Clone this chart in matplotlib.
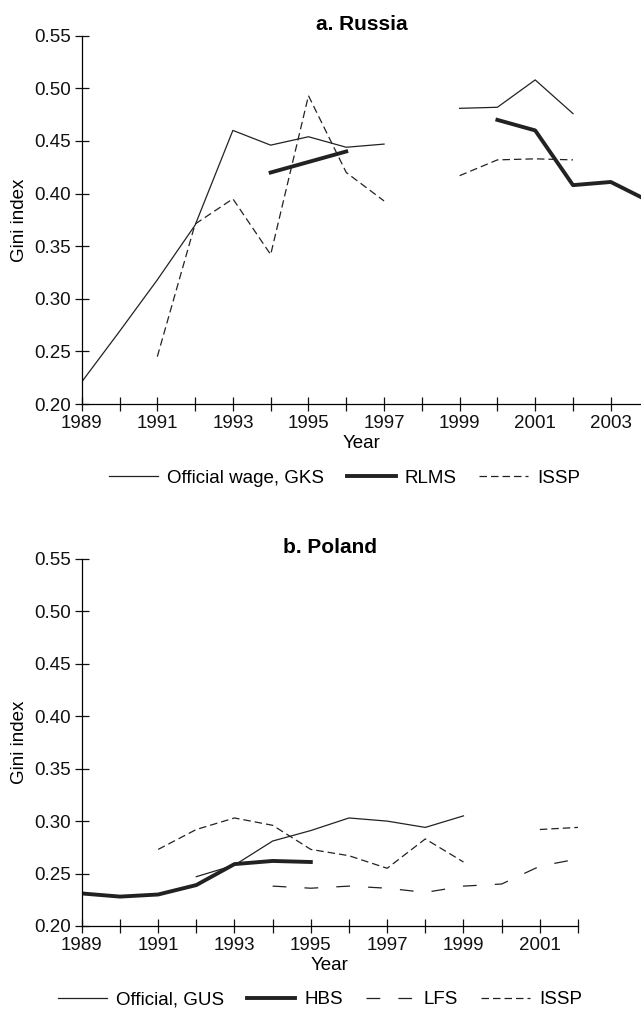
import numpy as np
import matplotlib
matplotlib.use("Agg")
import matplotlib.pyplot as plt

plt.rcParams['font.family'] = ['Liberation Sans', 'DejaVu Sans']

nan = np.nan

# Russia, 1989-2004
years_ru = np.arange(1989, 2005)
gks = [0.221, 0.269, 0.318, 0.370, 0.460, 0.446, 0.454, 0.444, 0.447, nan,
       0.481, 0.482, 0.508, 0.476, nan, nan]
rlms = [nan, nan, nan, nan, nan, 0.420, 0.430, 0.440, nan, nan,
        nan, 0.470, 0.460, 0.408, 0.411, 0.393]
issp_ru = [nan, nan, 0.245, 0.371, 0.395, 0.342, 0.493, 0.420, 0.393, nan,
           0.417, 0.432, 0.433, 0.432, nan, nan]

# Poland, 1989-2002
years_pl = np.arange(1989, 2003)
gus = [nan, nan, nan, 0.247, 0.258, 0.281, 0.291, 0.303, 0.300, 0.294,
       0.305, nan, nan, nan]
hbs = [0.231, 0.228, 0.230, 0.239, 0.259, 0.262, 0.261, nan, nan, nan,
       nan, nan, nan, nan]
lfs = [nan, nan, nan, nan, nan, 0.238, 0.236, 0.238, 0.236, 0.232,
       0.238, 0.240, 0.257, 0.264]
issp_pl = [nan, nan, 0.273, 0.292, 0.303, 0.296, 0.273, 0.267, 0.255, 0.283,
           0.261, nan, 0.292, 0.294]

yticks = [0.20, 0.25, 0.30, 0.35, 0.40, 0.45, 0.50, 0.55]

THIN = 0.9
THICK = 2.8
SHORT_DASH = (6, 3.2)
LONG_DASH = (11, 14.5)


def style_axes(ax, xmax, last_year):
    for side in ['top', 'right']:
        ax.spines[side].set_visible(False)
    for side in ['left', 'bottom']:
        ax.spines[side].set_linewidth(0.9)
    ax.set_xlim(1989, xmax)
    ax.set_ylim(0.20, 0.55)
    ax.set_yticks(yticks)
    ax.set_yticklabels(['%.2f' % v for v in yticks])
    ticks = list(range(1989, last_year + 1))
    ax.set_xticks(ticks)
    ax.set_xticklabels([str(t) if (t - 1989) % 2 == 0 else '' for t in ticks])
    ax.tick_params(direction='inout', length=10, width=0.9, pad=3,
                   labelsize=13.5, colors='#111111')
    ax.set_ylabel('Gini index', fontsize=13.5, labelpad=4)
    ax.set_xlabel('Year', fontsize=13.5, labelpad=2)


fig = plt.figure(figsize=(6.41, 10.09), dpi=100)

# a. Russia
ax1 = fig.add_axes([0.1275, 0.5996, 0.8725, 0.365])
ax1.plot(years_ru, gks, color='#222222', lw=THIN, label='Official wage, GKS')
ax1.plot(years_ru, rlms, color='#222222', lw=THICK, label='RLMS')
ax1.plot(years_ru, issp_ru, color='#222222', lw=THIN, dashes=SHORT_DASH,
         label='ISSP')
style_axes(ax1, 2003.8, 2003)
ax1.set_title('a. Russia', fontsize=15, fontweight='bold', pad=4)
ax1.legend(loc='center', bbox_to_anchor=(0.538, 0.526),
           bbox_transform=fig.transFigure, ncol=3, frameon=False,
           fontsize=13.5, handlelength=2.6, handletextpad=0.5,
           columnspacing=1.2)

# b. Poland
ax2 = fig.add_axes([0.1276, 0.0823, 0.7741, 0.3637])
ax2.plot(years_pl, gus, color='#222222', lw=THIN, label='Official, GUS')
ax2.plot(years_pl, hbs, color='#222222', lw=THICK, label='HBS')
ax2.plot(years_pl, lfs, color='#222222', lw=THIN, dashes=LONG_DASH,
         label='LFS')
ax2.plot(years_pl, issp_pl, color='#222222', lw=THIN, dashes=SHORT_DASH,
         label='ISSP')
style_axes(ax2, 2002, 2002)
ax2.set_title('b. Poland', fontsize=15, fontweight='bold', pad=4)
ax2.legend(loc='center', bbox_to_anchor=(0.499, 0.009),
           bbox_transform=fig.transFigure, ncol=4, frameon=False,
           fontsize=13.5, handlelength=2.6, handletextpad=0.5,
           columnspacing=1.2)

fig.savefig('out.png', dpi=100, facecolor='white')
